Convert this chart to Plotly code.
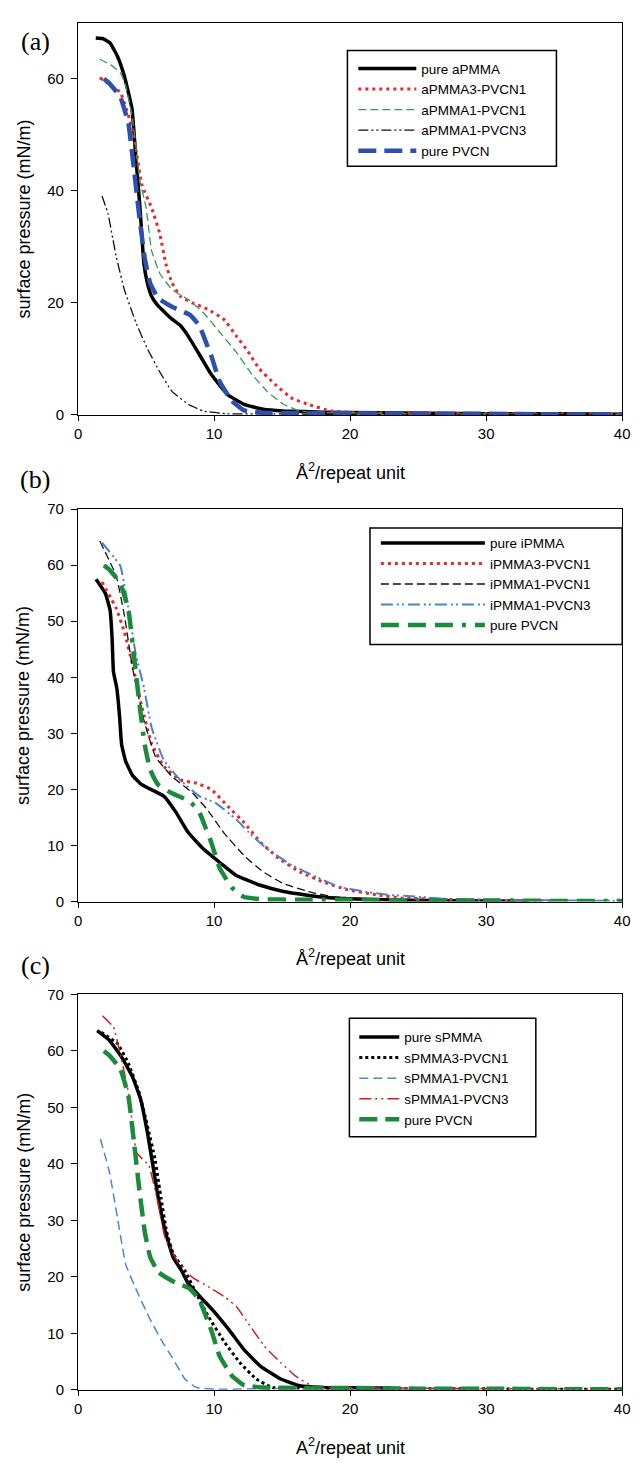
import plotly.graph_objects as go

# ---------------- data ----------------
# panel (a)
a_pure_x = [1.3, 1.8, 2.35, 2.9, 3.4, 3.96, 4.25, 4.55, 4.84, 5.1, 5.4, 5.87, 6.9, 7.5, 8.06, 8.94, 9.8, 11.0, 12.2, 13.6, 15.1, 18, 22, 26, 30, 35, 40]
a_pure_y = [67.3, 67.2, 66.4, 64, 60.5, 54.7, 45.9, 37, 27, 23.5, 21.2, 19.5, 17.1, 16, 14.2, 10.7, 7.2, 3.6, 1.9, 1.0, 0.7, 0.5, 0.4, 0.3, 0.2, 0.2, 0.1]
a_31_x = [1.6, 2.3, 3.1, 4.0, 4.7, 5.4, 6.0, 6.45, 6.9, 7.5, 8.4, 9.5, 10.7, 11.6, 12.5, 13.3, 14.5, 15.7, 16.9, 18.6, 20.4, 25, 30, 35, 40]
a_31_y = [60.2, 59, 57.6, 51, 41, 37, 32.4, 27, 23.6, 21.2, 20, 18.9, 17.1, 14.2, 11.3, 8.3, 5.4, 3.0, 1.9, 0.7, 0.4, 0.3, 0.2, 0.2, 0.1]
a_11_x = [1.6, 2.4, 3.1, 3.5, 4.0, 4.55, 5.0, 5.4, 6.0, 6.9, 8.1, 9.2, 10.4, 11.6, 12.8, 13.9, 15.1, 16.3, 18, 22, 28, 34, 40]
a_11_y = [63.5, 62.5, 61.1, 58.8, 52.9, 41.8, 37, 29.4, 25.3, 22.4, 20.6, 18.3, 14.8, 11.3, 7.2, 4.2, 1.9, 0.7, 0.4, 0.3, 0.2, 0.2, 0.1]
a_13_x = [1.76, 2.2, 2.8, 3.4, 4.25, 5.1, 6.0, 6.9, 8.1, 9.2, 11.0, 14, 18, 24, 30, 35, 40]
a_13_y = [39.1, 35.9, 28.3, 22.4, 16.5, 11.8, 7.7, 4.2, 1.9, 0.7, 0.2, 0.2, 0.1, 0.1, 0.1, 0.1, 0.1]

# pure PVCN (same material in all panels)
pvcn_x = [1.9, 2.3, 3.1, 3.7, 4.1, 4.5, 4.9, 5.3, 5.9, 6.9, 8.2, 8.9, 9.4, 9.8, 10.4, 11.3, 12.2, 13.6, 16, 20, 25, 30, 35, 40]
pvcn_y = [60, 59.2, 56.8, 52, 44, 35.5, 28, 23.5, 20.8, 19.3, 17.9, 16, 13, 10.5, 6, 2.5, 0.8, 0.4, 0.3, 0.3, 0.2, 0.2, 0.1, 0.1]

# panel (b)
b_pure_x = [1.32, 2.0, 2.35, 2.5, 2.6, 2.85, 3.05, 3.2, 3.5, 4.0, 4.6, 5.1, 6.3, 7.2, 8.1, 9.2, 10.4, 11.6, 13.4, 15.1, 17.5, 19.8, 22.4, 26, 30, 33]
b_pure_y = [57.5, 55.0, 52.0, 47.0, 41.0, 38.0, 33.0, 28.0, 25.0, 22.5, 21.0, 20.3, 18.8, 15.9, 12.3, 9.4, 7.0, 4.7, 2.9, 1.8, 0.9, 0.5, 0.3, 0.2, 0.1, 0.1]
b_31_x = [1.76, 2.8, 3.4, 4.0, 4.7, 5.4, 6.3, 7.5, 8.7, 9.8, 11.0, 12.2, 13.4, 14.8, 16.3, 18.0, 19.8, 21.9, 23.9, 27, 31, 35]
b_31_y = [57, 52.3, 48.1, 42.3, 34.6, 28.2, 24.1, 21.7, 21.1, 20, 17, 14.1, 10.6, 7.6, 5.3, 3.5, 2.1, 1.2, 0.6, 0.4, 0.2, 0.1]
b_11_x = [1.6, 2.8, 3.4, 4.0, 4.84, 5.7, 6.9, 8.4, 9.5, 10.7, 12.2, 13.6, 15.1, 16.9, 18.6, 21, 25, 30]
b_11_y = [64.3, 58.1, 51.1, 41.7, 32.3, 25.8, 22.3, 19.4, 16.4, 12.3, 8.2, 5.3, 3.2, 1.8, 0.9, 0.5, 0.3, 0.2]
b_13_x = [1.76, 3.1, 3.67, 4.25, 4.84, 5.4, 6.3, 7.5, 8.9, 10.1, 11.6, 12.8, 13.9, 15.7, 17.5, 19.2, 21.0, 22.7, 24.8, 26.8, 30, 35, 40]
b_13_y = [64, 59.9, 52.8, 44, 38.2, 31.1, 25.2, 21.7, 18.8, 17.6, 14.7, 11.7, 9.4, 6.5, 4.4, 2.6, 1.8, 1.2, 0.9, 0.5, 0.3, 0.2, 0.1]

# panel (c)
c_pure_x = [1.4, 2.3, 3.2, 4.0, 4.6, 5.1, 5.5, 5.9, 6.4, 7.0, 7.6, 8.1, 9.0, 9.9, 11.1, 12.2, 13.4, 14.9, 16.3, 18.1, 21, 23]
c_pure_y = [63.6, 61.9, 58.9, 55.4, 51.4, 45.5, 39.7, 33.9, 28.1, 23.4, 21.1, 18.8, 16.4, 14.1, 10.6, 7.1, 4.2, 1.9, 0.7, 0.4, 0.3, 0.3]
c_31_x = [1.7, 2.9, 3.7, 4.5, 5.1, 5.65, 6.1, 6.5, 7.0, 7.85, 8.7, 9.6, 10.8, 11.9, 13.1, 14.3, 17, 22, 28, 34, 40]
c_31_y = [63.3, 61.3, 57.8, 52.5, 46.7, 40.9, 33.9, 28.1, 24, 21.1, 17, 12.9, 8.3, 4.8, 1.9, 0.4, 0.3, 0.2, 0.2, 0.1, 0.1]
c_11_x = [1.64, 2.3, 2.9, 3.5, 4.3, 5.2, 6.1, 7.0, 7.85, 8.7, 10.5, 14, 18, 22, 30]
c_11_y = [44.4, 38.6, 30.4, 22.2, 17.6, 12.9, 8.9, 5.4, 1.9, 0.4, 0.1, 0.2, 0.2, 0.1, 0.1]
c_13_x = [1.8, 2.6, 3.2, 3.75, 4.3, 5.2, 5.8, 6.4, 7.3, 8.4, 9.6, 10.8, 11.65, 12.5, 13.7, 14.9, 16.0, 17.2, 19, 24, 30, 35, 40]
c_13_y = [66.2, 64.2, 58.4, 52, 42, 39.7, 33.9, 26.9, 22.8, 19.9, 18.2, 16.4, 14.7, 11.8, 7.7, 4.8, 2.4, 0.7, 0.4, 0.3, 0.2, 0.2, 0.1]

names_a = ["pure aPMMA", "aPMMA3-PVCN1", "aPMMA1-PVCN1", "aPMMA1-PVCN3", "pure PVCN"]
names_b = ["pure iPMMA", "iPMMA3-PVCN1", "iPMMA1-PVCN1", "iPMMA1-PVCN3", "pure PVCN"]
names_c = ["pure sPMMA", "sPMMA3-PVCN1", "sPMMA1-PVCN1", "sPMMA1-PVCN3", "pure PVCN"]
x_ticks = [0, 10, 20, 30, 40]
x_title = "Å<sup>2</sup>/repeat unit"
x_title_c = "A<sup>2</sup>/repeat unit"
y_title = "surface pressure (mN/m)"
panel_labels = ["(a)", "(b)", "(c)"]

# ---------------- figure ----------------
W, H = 639, 1463
FONT = "Liberation Sans, Arial, sans-serif"
fig = go.Figure()

def add(x, y, name, color, width, dash, panel, legend):
    fig.add_trace(go.Scatter(
        x=x, y=y, name=name, mode="lines",
        line=dict(color=color, width=width, dash=dash, shape="spline", smoothing=0.35),
        xaxis="x" if panel == 1 else f"x{panel}",
        yaxis="y" if panel == 1 else f"y{panel}",
        legend=legend))

RED = "#e8282a"
# (a)
add(a_pure_x, a_pure_y, names_a[0], "#000000", 3.5, "solid", 1, "legend")
add(a_31_x, a_31_y, names_a[1], RED, 3, "3px,4px", 1, "legend")
add(a_11_x, a_11_y, names_a[2], "#3d9a55", 1.3, "8px,4px", 1, "legend")
add(a_13_x, a_13_y, names_a[3], "#111111", 1.3, "10px,3px,2px,3px,2px,3px", 1, "legend")
add(pvcn_x, pvcn_y, names_a[4], "#2d4fae", 4.5, "18px,8px", 1, "legend")
# (b)
add(b_pure_x, b_pure_y, names_b[0], "#000000", 3.5, "solid", 2, "legend2")
add(b_31_x, b_31_y, names_b[1], RED, 3, "3px,4px", 2, "legend2")
add(b_11_x, b_11_y, names_b[2], "#111111", 1.3, "8px,4px", 2, "legend2")
add(b_13_x, b_13_y, names_b[3], "#4a82cc", 2, "12px,4px,2px,3px,2px,4px", 2, "legend2")
add(pvcn_x, pvcn_y, names_b[4], "#1b8a3c", 4.5, "18px,9px,18px,9px,18px,9px,4px,9px", 2, "legend2")
# (c)
add(c_pure_x, c_pure_y, names_c[0], "#000000", 3.5, "solid", 3, "legend3")
add(c_31_x, c_31_y, names_c[1], "#000000", 3, "3px,3px", 3, "legend3")
add(c_11_x, c_11_y, names_c[2], "#4f86d6", 1.5, "9px,5px", 3, "legend3")
add(c_13_x, c_13_y, names_c[3], "#cc2222", 1.5, "12px,4px,2px,4px,2px,4px", 3, "legend3")
add(pvcn_x, pvcn_y, names_c[4], "#1b8a3c", 4.5, "18px,8px", 3, "legend3")

def px_x(p):
    return p / W

def px_y(p):
    return 1 - p / H

X0, X1 = 75.5, 630
panels = [  # (top, bottom) in px
    (14, 410.7),
    (506, 903),
    (997, 1397),
]

axis_common = dict(showline=True, linecolor="black", linewidth=1.2, mirror=True,
                   ticks="outside", tickcolor="black", tickwidth=1.2,
                   showgrid=False, zeroline=False,
                   tickfont=dict(family=FONT, size=15, color="black"))
layout = dict(width=W, height=H, margin=dict(l=0, r=0, t=0, b=0),
              paper_bgcolor="white", plot_bgcolor="white", showlegend=True)

for i, (top, bot) in enumerate(panels, start=1):
    sx = "" if i == 1 else str(i)
    layout[f"xaxis{sx}"] = dict(axis_common, domain=[px_x(X0), px_x(X1)], range=[0, 40],
                                tickvals=x_ticks, ticklen=5, anchor=f"y{sx}",
                                ticklabeloverflow="allow")
    layout[f"yaxis{sx}"] = dict(axis_common, domain=[px_y(bot), px_y(top)], range=[0, 70],
                                dtick=20 if i == 1 else 10, ticklen=6,
                                ticklabelstandoff=4, anchor=f"x{sx}")

leg_common = dict(font=dict(family=FONT, size=13.5, color="black"), bgcolor="rgba(0,0,0,0)",
                  borderwidth=0, xanchor="left", yanchor="top", tracegroupgap=0)
layout["legend"] = dict(leg_common, x=px_x(356), y=px_y(44.7), itemwidth=58)
layout["legend2"] = dict(leg_common, x=px_x(379), y=px_y(524.7), itemwidth=104)
layout["legend3"] = dict(leg_common, x=px_x(357), y=px_y(1024.7), itemwidth=40)

shapes = []
for (x0, y0, x1, y1) in [(350, 42, 563, 159), (373, 525, 630, 643), (352, 1021, 542, 1141)]:
    shapes.append(dict(type="rect", xref="paper", yref="paper",
                       x0=px_x(x0), x1=px_x(x1), y0=px_y(y1), y1=px_y(y0),
                       line=dict(color="black", width=1.5), fillcolor="rgba(0,0,0,0)"))
layout["shapes"] = shapes

ann = []
xt = [x_title, x_title, x_title_c]
for i, (top, bot) in enumerate(panels):
    ann.append(dict(text=y_title, x=px_x(20), y=px_y((top + bot) / 2), xref="paper", yref="paper",
                    xanchor="center", yanchor="middle",
                    textangle=-90, showarrow=False, font=dict(family=FONT, size=18, color="black")))
    ann.append(dict(text=xt[i], x=px_x((X0 + X1) / 2), y=px_y(bot + 57), xref="paper", yref="paper",
                    xanchor="center", yanchor="middle",
                    showarrow=False, font=dict(family=FONT, size=18, color="black")))
label_y = [33, 476, 968]
for i, lab in enumerate(panel_labels):
    ann.append(dict(text=lab, x=px_x(32), y=px_y(label_y[i]), xref="paper", yref="paper",
                    xanchor="center", yanchor="middle",
                    showarrow=False, font=dict(family="Liberation Serif, Times New Roman, serif",
                                               size=26, color="black")))
layout["annotations"] = ann

fig.update_layout(**layout)
fig.write_html("out.html")
